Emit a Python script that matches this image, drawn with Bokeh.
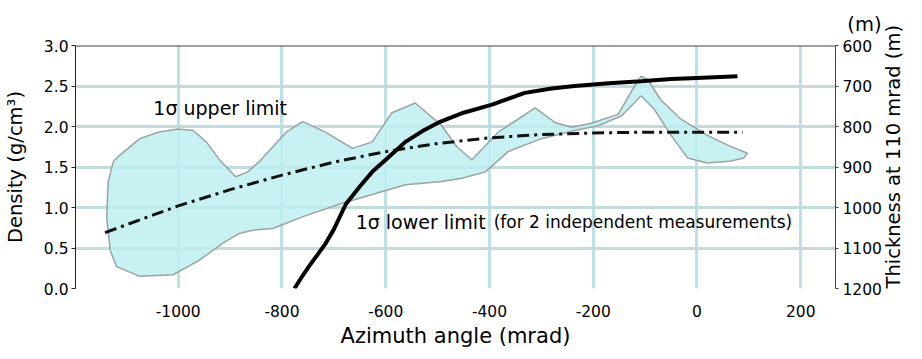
import math
from bokeh.plotting import figure
from bokeh.models import (Range1d, LinearAxis, FixedTicker, Label, Span, PrintfTickFormatter, Title)
from bokeh.embed import file_html
from bokeh.resources import INLINE

# ---- data ----
x_ticks = [-1200, -1000, -800, -600, -400, -200, 0, 200]
y_ticks = [0.0, 0.5, 1.0, 1.5, 2.0, 2.5, 3.0]
thick_ticks = [600, 700, 800, 900, 1000, 1100, 1200]

# 1 sigma band: upper edge (left -> right)
band_upper_x = [-1138, -1135, -1125, -1112, -1074, -1039, -1000, -971, -946, -918, -889, -866, -843,
                -792, -760, -716, -664, -626, -588, -543, -492, -463, -434, -383, -312, -274, -242,
                -204, -152, -124, -108, -95, -70, -31, 20, 59, 97]
band_upper_y = [0.88, 1.32, 1.57, 1.65, 1.85, 1.93, 1.97, 1.95, 1.81, 1.57, 1.38, 1.44, 1.57,
                1.93, 2.06, 1.93, 1.73, 1.81, 2.17, 2.29, 2.01, 1.75, 1.59, 1.93, 2.23, 2.05, 1.99,
                2.04, 2.15, 2.46, 2.62, 2.58, 2.33, 2.09, 1.89, 1.77, 1.67]
# lower edge (right -> left)
band_lower_x = [90, 63, 20, -18, -50, -82, -108, -121, -146, -191, -236, -300, -364, -408, -453,
                -492, -562, -626, -690, -754, -818, -856, -882, -914, -959, -1010, -1074, -1119,
                -1131, -1138]
band_lower_y = [1.61, 1.57, 1.55, 1.61, 1.89, 2.21, 2.38, 2.29, 2.13, 2.01, 1.95, 1.85, 1.69, 1.44,
                1.36, 1.32, 1.28, 1.16, 1.04, 0.90, 0.74, 0.72, 0.68, 0.56, 0.35, 0.17, 0.15, 0.27,
                0.47, 0.88]

# dash-dot curve
dd_x = [-1141, -1000, -900, -800, -700, -600, -500, -400, -300, -200, -100, 0, 88]
dd_y = [0.69, 1.02, 1.22, 1.40, 1.56, 1.69, 1.79, 1.86, 1.90, 1.92, 1.93, 1.93, 1.93]

# solid thick curve
cv_x = [-776, -760, -745, -730, -716, -700, -677, -650, -626, -600, -562, -530, -498, -450, -395,
        -332, -280, -236, -170, -108, -50, 0, 78]
cv_y = [0.0, 0.16, 0.30, 0.43, 0.555, 0.73, 1.04, 1.26, 1.44, 1.59, 1.81, 1.94, 2.05, 2.17, 2.27,
        2.415, 2.47, 2.50, 2.535, 2.56, 2.585, 2.60, 2.62]

FONT = "DejaVu Sans"
TICK_FS = "15.5px"
TXT = "#000"

p = figure(frame_width=760, frame_height=243, x_range=Range1d(-1198, 267), y_range=Range1d(0, 3.0),
           output_backend="svg", toolbar_location=None,
           min_border_left=72, min_border_right=74, min_border_top=40, min_border_bottom=60)
p.outline_line_color = None
p.extra_y_ranges = {"thick": Range1d(start=1200, end=600)}

# grids
p.xgrid.ticker = FixedTicker(ticks=x_ticks)
p.ygrid.ticker = FixedTicker(ticks=[0.5, 1.0, 1.5, 2.0, 2.5])
p.xgrid.grid_line_color = "#bde2e5"
p.ygrid.grid_line_color = "#c0dcdf"
p.xgrid.grid_line_width = 3
p.ygrid.grid_line_width = 3

# x axis
xa = p.xaxis[0]
xa.ticker = FixedTicker(ticks=x_ticks)
xa.formatter = PrintfTickFormatter(format="%d")
xa.axis_line_color = None
xa.major_tick_line_color = None
xa.minor_tick_line_color = None
xa.major_label_standoff = 10
xa.major_label_text_font = FONT
xa.major_label_text_font_size = TICK_FS
xa.major_label_text_color = TXT
xa.axis_label = "Azimuth angle (mrad)"
xa.axis_label_text_font = FONT
xa.axis_label_text_font_size = "21px"
xa.axis_label_text_font_style = "normal"
xa.axis_label_text_color = TXT
xa.axis_label_standoff = 4

# left axis
ya = p.yaxis[0]
ya.ticker = FixedTicker(ticks=y_ticks)
ya.formatter = PrintfTickFormatter(format="%.1f")
ya.axis_line_color = "#222"
ya.major_tick_line_color = "#222"
ya.major_tick_out = 4
ya.major_tick_in = 0
ya.minor_tick_line_color = None
ya.major_label_standoff = 3
ya.major_label_text_font = FONT
ya.major_label_text_font_size = TICK_FS
ya.major_label_text_color = TXT
ya.axis_label = "Density (g/cm\u00b3)"
ya.axis_label_text_font = FONT
ya.axis_label_text_font_size = "19.5px"
ya.axis_label_text_font_style = "normal"
ya.axis_label_text_color = TXT
ya.axis_label_standoff = 14

# right axis
ra = LinearAxis(y_range_name="thick", ticker=FixedTicker(ticks=thick_ticks))
ra.axis_line_color = "#444"
ra.major_tick_line_color = "#444"
ra.major_tick_out = 3
ra.major_tick_in = 0
ra.minor_tick_line_color = None
ra.major_label_standoff = 4
ra.major_label_text_font = FONT
ra.major_label_text_font_size = TICK_FS
ra.major_label_text_color = TXT
ra.axis_label = "Thickness at 110 mrad  (m)"
ra.axis_label_text_font = FONT
ra.axis_label_text_font_size = "19.5px"
ra.axis_label_text_font_style = "normal"
ra.axis_label_text_color = TXT
ra.axis_label_standoff = 9
if "axis_label_orientation" in ra.properties():
    ra.axis_label_orientation = math.pi / 2
if "axis_label_align" in ra.properties():
    ra.axis_label_align = "end"
p.add_layout(ra, "right")

# "(m)" unit above the right axis
t_m = Title(text="(m)", align="right", offset=-46, text_font=FONT, text_font_size="19.5px",
            text_font_style="normal", text_color=TXT)
if "standoff" in t_m.properties():
    t_m.standoff = 20
p.add_layout(t_m, "above")

# top border
p.add_layout(Span(location=3.0, dimension="width", line_color="#444", line_width=2))

# band
band_x = band_upper_x + band_lower_x
band_y = band_upper_y + band_lower_y
p.patch(band_x, band_y, fill_color="#bdeef1", fill_alpha=0.85, line_color="#9aa3a4", line_width=1.5)

# curves
p.line(dd_x, dd_y, line_color="#111", line_width=3, line_dash="12 5 3 5")
p.line(cv_x, cv_y, line_color="black", line_width=4)

# texts
p.add_layout(Label(x=-1048, y=2.23, text="1\u03c3 upper limit", text_font=FONT, text_font_size="19px",
                   text_baseline="middle", text_align="left", text_color=TXT))
p.add_layout(Label(x=-658, y=0.825, text="1\u03c3 lower limit", text_font=FONT, text_font_size="19px",
                   text_baseline="middle", text_align="left", text_color=TXT))
p.add_layout(Label(x=-392, y=0.825, text="(for 2 independent measurements)", text_font=FONT,
                   text_font_size="17px", text_baseline="middle", text_align="left", text_color=TXT))

open("out.html", "w").write(file_html(p, INLINE))
